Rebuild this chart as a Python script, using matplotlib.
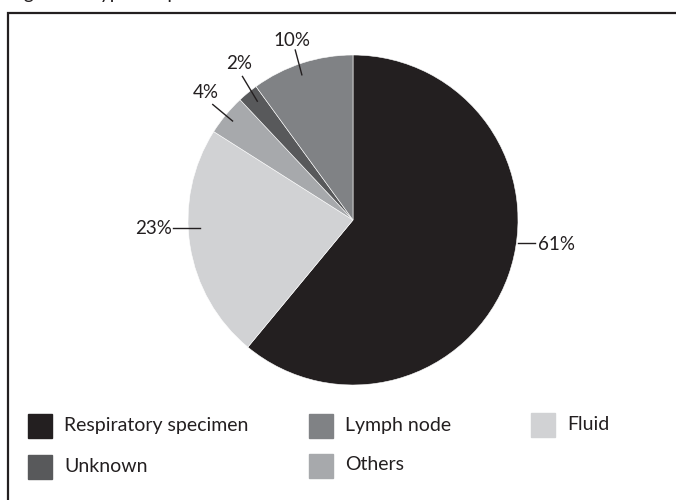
import matplotlib
matplotlib.use('Agg')
import matplotlib.pyplot as plt
from matplotlib.patches import Rectangle

plt.rcParams['font.family'] = ['Lato', 'DejaVu Sans']

# specimen types, clockwise from 12 o'clock
labels = ['Respiratory specimen', 'Fluid', 'Others', 'Unknown', 'Lymph node']
shares = [61, 23, 4, 2, 10]
colors = ['#231f20', '#d1d2d4', '#a7a9ac', '#58595b', '#808285']

# where each percentage label sits (text pos, leader start, leader end) in pie units
label_pos = [(1.12, -0.15), (-1.10, -0.05), (-0.89, 0.77), (-0.69, 0.95), (-0.37, 1.09)]
line_from = [(1.10, -0.14), (-1.09, -0.05), (-0.85, 0.70), (-0.67, 0.87), (-0.35, 1.03)]
line_to = [(1.00, -0.14), (-0.93, -0.05), (-0.73, 0.60), (-0.58, 0.72), (-0.31, 0.88)]
label_ha = ['left', 'right', 'center', 'center', 'center']

# legend layout: (index, square left px, square top px)
legend_slots = [(0, 28, 414), (4, 309, 414), (1, 531, 413), (3, 28, 455), (2, 309, 454)]

W, H = 676, 500
fig = plt.figure(figsize=(W / 100, H / 100), dpi=100)

# frame around the figure panel
fig.patches.append(Rectangle((8 / W, -0.2), 1.2, (H - 13) / H + 0.2,
                             transform=fig.transFigure, fill=False,
                             edgecolor='#231f20', linewidth=1.6, clip_on=False))
fig.text(8 / W, 1.003, 'Figure 1: Type of specimen', fontsize=14,
         va='baseline', ha='left', color='#231f20')

cx, cy, half = 353, 220, 200
ax = fig.add_axes([(cx - half) / W, (H - cy - half) / H, 2 * half / W, 2 * half / H])
ax.pie(shares, colors=colors, startangle=90, counterclock=False, radius=1,
       wedgeprops=dict(edgecolor='white', linewidth=0.4))
lim = half / 165
ax.set_xlim(-lim, lim)
ax.set_ylim(-lim, lim)
ax.set_aspect('equal')
ax.axis('off')

for v, p, a, b, ha in zip(shares, label_pos, line_from, line_to, label_ha):
    ax.plot([a[0], b[0]], [a[1], b[1]], color='#231f20', linewidth=1.0)
    ax.text(p[0], p[1], f'{v}%', ha=ha, va='center', fontsize=13.5, color='#231f20')

for i, x, y in legend_slots:
    fig.patches.append(Rectangle((x / W, (H - y - 24) / H), 24 / W, 24 / H,
                                 transform=fig.transFigure, color=colors[i]))
    fig.text((x + 36) / W, (H - y - 11) / H, labels[i], fontsize=14,
             va='center', ha='left', color='#231f20')

fig.savefig('out.png', dpi=100)
